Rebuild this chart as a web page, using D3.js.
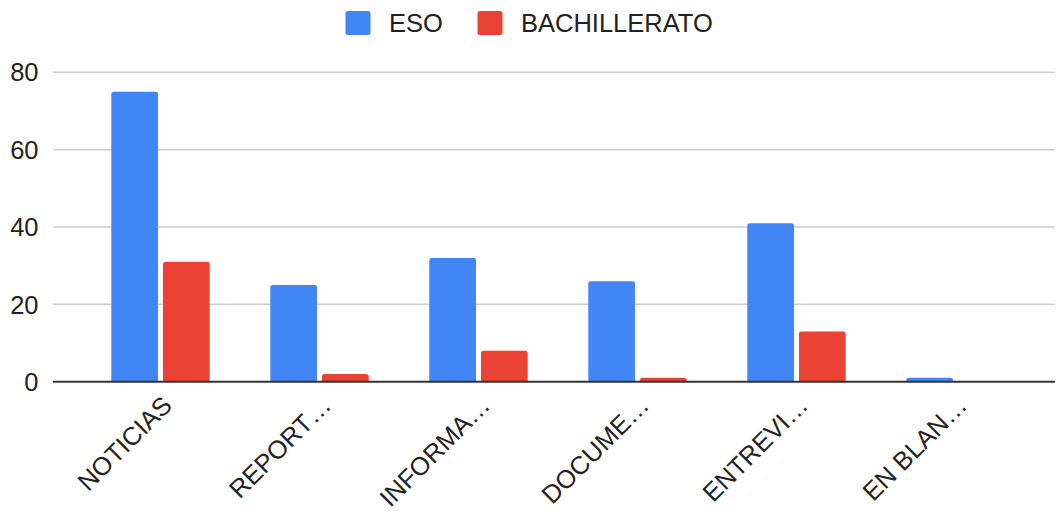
<!DOCTYPE html>
<html>
<head>
<meta charset="utf-8">
<script src="https://cdn.jsdelivr.net/npm/d3@7"></script>
<style>
  html, body { margin: 0; padding: 0; background: #fff; }
  svg { display: block; font-family: "Liberation Sans", Arial, sans-serif; }
</style>
</head>
<body>
<svg id="chart" width="1057" height="511"></svg>
<script>
// Categories (labels as shown on the axis) and counts per level
const categories = ["NOTICIAS", "REPORT…", "INFORMA…", "DOCUME…", "ENTREVI…", "EN BLAN…"];
const seriesNames = ["ESO", "BACHILLERATO"];
const esoValues = [75, 25, 32, 26, 41, 1];
const bachilleratoValues = [31, 2, 8, 1, 13, 0];
const yTicks = [0, 20, 40, 60, 80];
const colors = ["#4285F4", "#EA4335"];

const svg = d3.select("#chart");
const fontSize = 25.5;
const gridLeft = 53, gridRight = 1055;
const plotTop = 72.3, plotBottom = 381.7;

const rows = categories.map((c, i) => ({
  category: c,
  values: [esoValues[i], bachilleratoValues[i]]
}));

const x0 = d3.scaleBand()
  .domain(categories)
  .range([81, 1035])
  .paddingInner(0.381)
  .paddingOuter(0.1905);

const x1 = d3.scaleBand()
  .domain(seriesNames)
  .range([0, x0.bandwidth()])
  .paddingInner(0.097);

const y = d3.scaleLinear().domain([0, 80]).range([plotBottom, plotTop]);

// Horizontal gridlines
svg.append("g")
  .selectAll("line")
  .data(yTicks.filter(t => t !== 0))
  .join("line")
  .attr("x1", gridLeft).attr("x2", gridRight)
  .attr("y1", d => y(d)).attr("y2", d => y(d))
  .attr("stroke", "#cccccc").attr("stroke-width", 1.5);

// Y tick labels
svg.append("g")
  .selectAll("text")
  .data(yTicks)
  .join("text")
  .attr("x", 38.5)
  .attr("y", d => y(d))
  .attr("dy", "0.36em")
  .attr("text-anchor", "end")
  .attr("font-size", fontSize)
  .attr("fill", "#222")
  .text(d => d);

// Bar shape with rounded top corners
function barPath(x, yTop, w, h, r) {
  r = Math.min(r, h, w / 2);
  const yb = yTop + h;
  return `M${x},${yb}V${yTop + r}Q${x},${yTop} ${x + r},${yTop}` +
         `H${x + w - r}Q${x + w},${yTop} ${x + w},${yTop + r}V${yb}Z`;
}

// Bars
const groups = svg.append("g")
  .selectAll("g")
  .data(rows)
  .join("g")
  .attr("transform", d => `translate(${x0(d.category)},0)`);

groups.selectAll("path")
  .data(d => d.values.map((v, j) => ({ key: seriesNames[j], value: v, j })).filter(e => e.value > 0))
  .join("path")
  .attr("fill", e => colors[e.j])
  .attr("d", e => barPath(x1(e.key), y(e.value), x1.bandwidth(), plotBottom - y(e.value), 2.5));

// Baseline
svg.append("line")
  .attr("x1", gridLeft).attr("x2", gridRight)
  .attr("y1", y(0)).attr("y2", y(0))
  .attr("stroke", "#333").attr("stroke-width", 2);

// Rotated category labels
svg.append("g")
  .selectAll("text")
  .data(categories)
  .join("text")
  .attr("transform", d => `translate(${x0(d) + x0.bandwidth() / 2 + 13},${407}) rotate(-45)`)
  .attr("text-anchor", "end")
  .attr("font-size", fontSize)
  .attr("fill", "#222")
  .text(d => d);

// Legend
const legendItems = [
  { name: seriesNames[0], color: colors[0], sx: 345.5, tx: 389 },
  { name: seriesNames[1], color: colors[1], sx: 477.5, tx: 521 }
];
const legend = svg.append("g");
legend.selectAll("rect")
  .data(legendItems)
  .join("rect")
  .attr("x", d => d.sx).attr("y", 11)
  .attr("width", 25).attr("height", 24)
  .attr("rx", 2.5)
  .attr("fill", d => d.color);
legend.selectAll("text")
  .data(legendItems)
  .join("text")
  .attr("x", d => d.tx).attr("y", 23)
  .attr("dy", "0.36em")
  .attr("font-size", fontSize)
  .attr("fill", "#222")
  .text(d => d.name);
</script>
</body>
</html>
